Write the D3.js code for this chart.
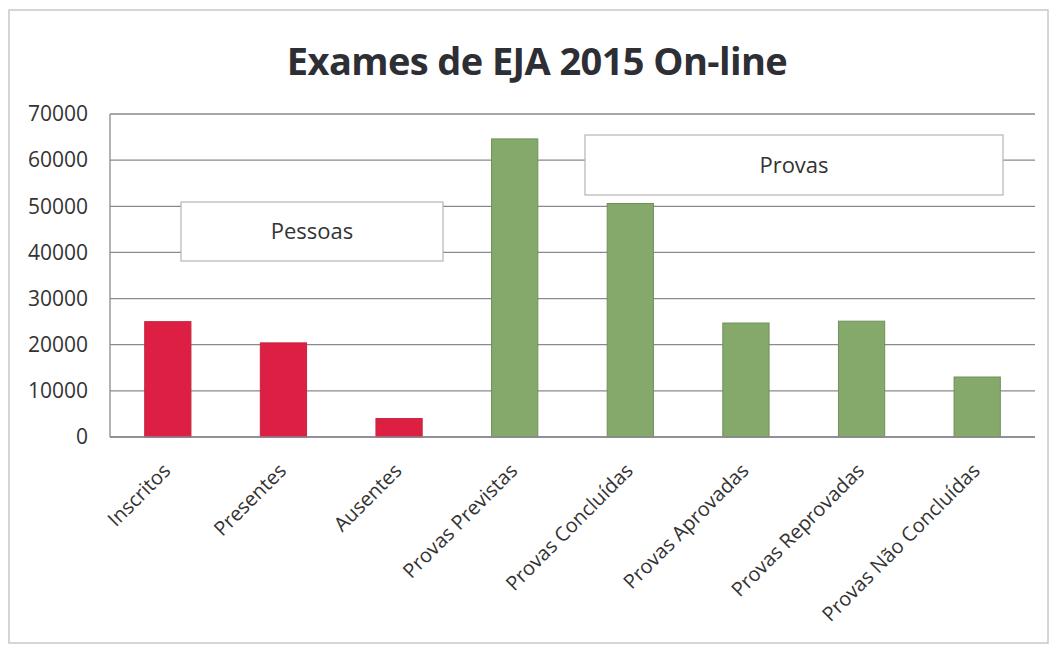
<!DOCTYPE html>
<html>
<head>
<meta charset="utf-8">
<script src="https://cdn.jsdelivr.net/npm/d3@7"></script>
<style>
  body { margin: 0; background: #fff; }
  svg { display: block; font-family: "Open Sans", "Noto Sans", sans-serif; }
</style>
</head>
<body>
<svg id="chart"></svg>
<script>
// chart data
const categories = ["Inscritos", "Presentes", "Ausentes", "Provas Previstas", "Provas Concluídas",
  "Provas Aprovadas", "Provas Reprovadas", "Provas Não Concluídas"];
const values = [25000, 20400, 4000, 64600, 50600, 24700, 25100, 13000];
const groups = ["Pessoas", "Pessoas", "Pessoas", "Provas", "Provas", "Provas", "Provas", "Provas"];
const yTicks = [0, 10000, 20000, 30000, 40000, 50000, 60000, 70000];

const width = 1055, height = 649;
const margin = { top: 114, right: 20, bottom: 212, left: 110 };

const svg = d3.select("#chart")
  .attr("width", width)
  .attr("height", height);

// outer frame
svg.append("rect")
  .attr("x", 9).attr("y", 10)
  .attr("width", width - 16).attr("height", height - 16)
  .attr("fill", "#fff")
  .attr("stroke", "#c8c8c8")
  .attr("stroke-width", 1.5);

const x = d3.scaleBand()
  .domain(categories)
  .range([margin.left, width - margin.right])
  .paddingInner(0.6)
  .paddingOuter(0.3);

const y = d3.scaleLinear()
  .domain([0, 70000])
  .range([height - margin.bottom, margin.top]);

// gridlines
svg.append("g")
  .selectAll("line")
  .data(yTicks)
  .join("line")
  .attr("x1", margin.left)
  .attr("x2", width - margin.right)
  .attr("y1", d => y(d))
  .attr("y2", d => y(d))
  .attr("stroke", "#8d8791")
  .attr("stroke-width", 1.3);

// y axis line
svg.append("line")
  .attr("x1", margin.left).attr("x2", margin.left)
  .attr("y1", y(70000)).attr("y2", y(0))
  .attr("stroke", "#8d8791")
  .attr("stroke-width", 1.3);

// y tick labels
svg.append("g")
  .selectAll("text")
  .data(yTicks)
  .join("text")
  .attr("x", 88)
  .attr("y", d => y(d))
  .attr("dy", "0.35em")
  .attr("text-anchor", "end")
  .attr("font-size", 21)
  .attr("fill", "#333")
  .text(d => d);

// group label boxes (drawn over gridlines, under bars)
const boxes = [
  { label: "Pessoas", x0: 181, x1: 443, y0: 202, y1: 261 },
  { label: "Provas", x0: 585, x1: 1003, y0: 135, y1: 195 }
];
const box = svg.append("g").selectAll("g")
  .data(boxes)
  .join("g");
box.append("rect")
  .attr("x", d => d.x0).attr("y", d => d.y0)
  .attr("width", d => d.x1 - d.x0).attr("height", d => d.y1 - d.y0)
  .attr("fill", "#fff")
  .attr("stroke", "#b8b2ba")
  .attr("stroke-width", 1.2);
box.append("text")
  .attr("x", d => (d.x0 + d.x1) / 2)
  .attr("y", d => (d.y0 + d.y1) / 2)
  .attr("dy", "0.35em")
  .attr("text-anchor", "middle")
  .attr("font-size", 22)
  .attr("fill", "#333")
  .text(d => d.label);

// bars
const colour = { Pessoas: "#dc1f42", Provas: "#84a96b" };
const stroke = { Pessoas: "#c4283f", Provas: "#6e8f5b" };
svg.append("g")
  .selectAll("rect")
  .data(categories)
  .join("rect")
  .attr("x", d => x(d))
  .attr("y", (d, i) => y(values[i]))
  .attr("width", x.bandwidth())
  .attr("height", (d, i) => y(0) - y(values[i]))
  .attr("fill", (d, i) => colour[groups[i]])
  .attr("stroke", (d, i) => stroke[groups[i]])
  .attr("stroke-width", 1);

// x axis line
svg.append("line")
  .attr("x1", margin.left).attr("x2", width - margin.right)
  .attr("y1", y(0)).attr("y2", y(0))
  .attr("stroke", "#8d8791")
  .attr("stroke-width", 1.3);

// x labels, rotated
svg.append("g")
  .selectAll("text")
  .data(categories)
  .join("text")
  .attr("transform", d => `translate(${x(d) + x.bandwidth() / 2 + 4},${y(0) + 35}) rotate(-45)`)
  .attr("text-anchor", "end")
  .attr("font-size", 20)
  .attr("fill", "#333")
  .text(d => d);

// title
svg.append("text")
  .attr("x", 537)
  .attr("y", 75)
  .attr("text-anchor", "middle")
  .attr("font-size", 38)
  .attr("font-weight", "bold")
  .attr("letter-spacing", -0.6)
  .attr("fill", "#2e2e35")
  .text("Exames de EJA 2015 On-line");
</script>
</body>
</html>
